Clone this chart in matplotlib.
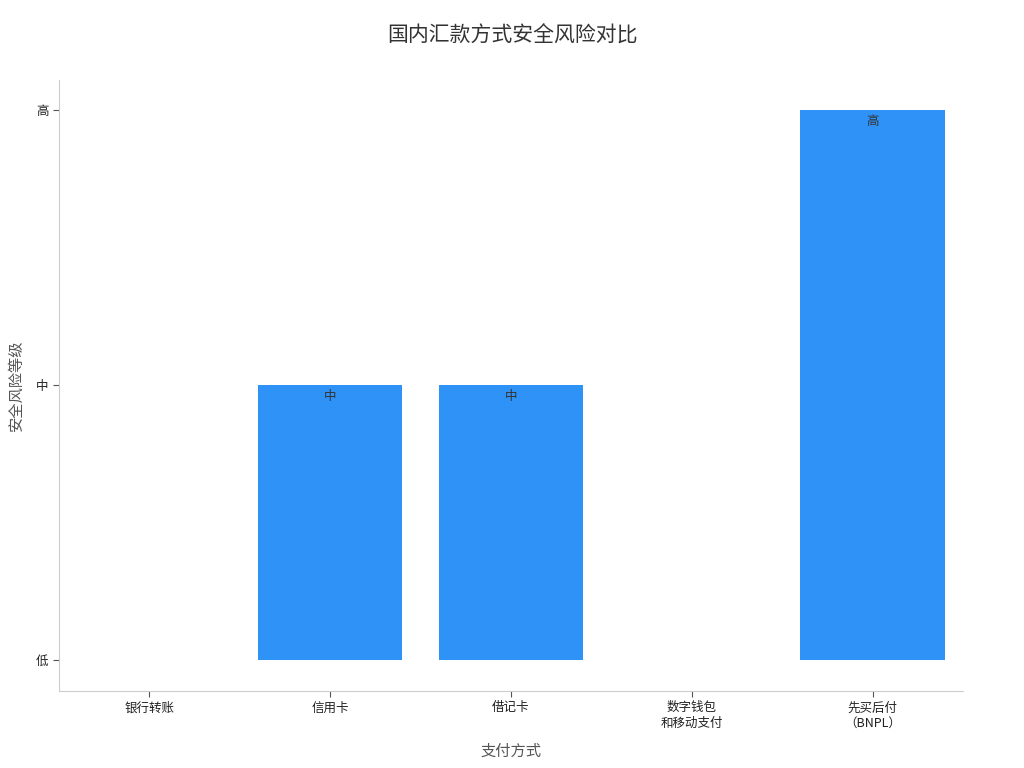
import matplotlib
matplotlib.use("Agg")
import matplotlib.pyplot as plt

plt.rcParams['font.family'] = ['Noto Sans CJK SC', 'DejaVu Sans']

# data
methods = ["银行转账", "信用卡", "借记卡", "数字钱包\n和移动支付", "先买后付\n（BNPL）"]
risk_levels = [0, 1, 1, 0, 2]
level_names = ["低", "中", "高"]

fig = plt.figure(figsize=(10.24, 7.68), dpi=100)
ax = fig.add_axes([0.0576, 0.1003, 0.8828, 0.7955])

bar_colour = "#2f92f7"
x = list(range(len(methods)))
bars = ax.bar(x, risk_levels, width=0.8, color=bar_colour, linewidth=0)

for xi, v in zip(x, risk_levels):
    if v > 0:
        ax.text(xi, v - 0.018, level_names[v], ha="center", va="top", fontsize=9, color="#333333")

ax.set_xlim(-0.5, 4.5)
ax.set_ylim(-0.113, 2.11)
ax.set_xticks(x)
ax.set_xticklabels(methods, fontsize=9, color="#222222")
ax.set_yticks([0, 1, 2])
ax.set_yticklabels(level_names, fontsize=9, color="#222222")

for side in ["top", "right"]:
    ax.spines[side].set_visible(False)
for side in ["left", "bottom"]:
    ax.spines[side].set_color("#cccccc")
ax.tick_params(colors="#555555", labelcolor="#222222", length=4)

ax.set_xlabel("支付方式", fontsize=11, color="#555555", labelpad=10)
ax.set_ylabel("安全风险等级", fontsize=11, color="#555555", labelpad=8)
fig.suptitle("国内汇款方式安全风险对比", fontsize=15, color="#333333", y=0.968)

plt.savefig("out.png", dpi=100)
